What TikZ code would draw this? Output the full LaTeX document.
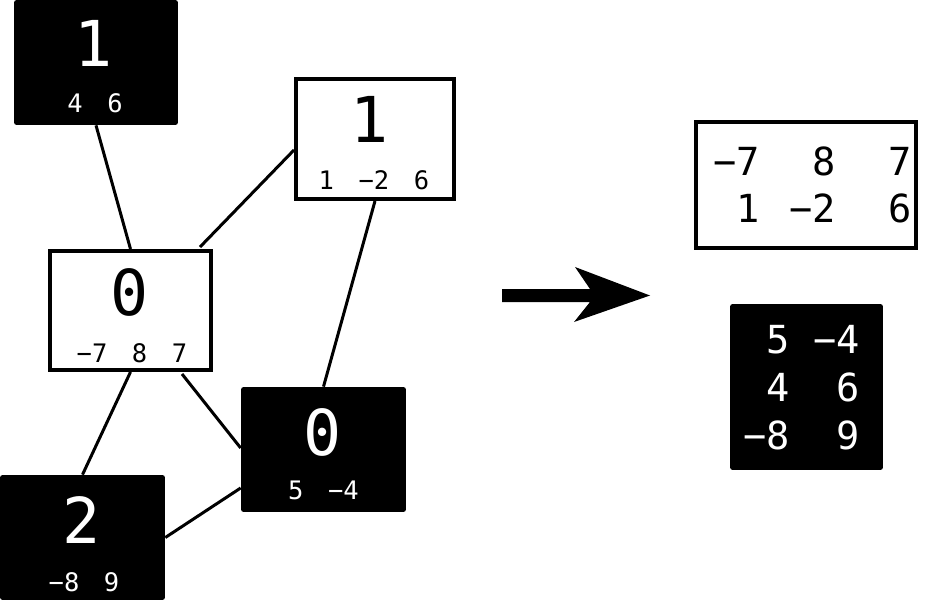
\documentclass[tikz,border=0pt]{standalone}
\usepackage{fontspec}
\setmonofont{DejaVu Sans Mono}
\usetikzlibrary{calc}

\newcommand\gp{\hspace{14pt}}

\tikzset{
  darkbox/.style={fill=black, rounded corners=1.5pt, inner sep=0pt},
  lightbox/.style={draw=black, line width=0.08cm, fill=white, inner sep=0pt},
  link/.style={line width=0.06cm},
  bignum/.style={anchor=base, inner sep=0pt, font=\ttfamily\fontsize{36}{40}\selectfont},
  smallnum/.style={anchor=base, inner sep=0pt, font=\ttfamily\fontsize{14.5}{17}\selectfont},
  matnum/.style={anchor=base east, inner sep=0pt, font=\ttfamily\fontsize{22}{26}\selectfont},
}

\begin{document}
\begin{tikzpicture}[x=0.02cm,y=-0.02cm]
\useasboundingbox (0,0) rectangle (933,601);
% graph boxes
\node[darkbox, minimum width=3.28cm, minimum height=2.5cm] (top) at (96,62.5) {};
\node[lightbox, minimum width=3.22cm, minimum height=2.38cm] (mid) at (130.5,310.5) {};
\node[lightbox, minimum width=3.16cm, minimum height=2.4cm] (upr) at (375,139) {};
\node[darkbox, minimum width=3.3cm, minimum height=2.5cm] (lwr) at (323.5,449.5) {};
\node[darkbox, minimum width=3.3cm, minimum height=2.5cm] (bot) at (82.5,537.5) {};
% edges
\draw[link] (top.south) -- (mid.north);
\draw[link] ($(mid.north)+(69.5,-2)$) -- ($(upr.west)+(0,11)$);
\draw[link] (upr.south) -- (lwr.north);
\draw[link] (mid.south) -- (bot.north);
\draw[link] ($(mid.south)+(51.5,2)$) -- ($(lwr.west)+(0,-1.5)$);
\draw[link] (bot.east) -- ($(lwr.west)+(0,38.5)$);
% labels
\node[bignum, white] (top-id) at (94,67) {1};
\node[smallnum, white] (top-v) at (95,113) {4\gp6};
\node[bignum] (mid-id) at (130,316) {0};
\node[smallnum] (mid-v) at (132,362) {−7\gp8\gp7};
\node[bignum] (upr-id) at (370,143) {1};
\node[smallnum] (upr-v) at (374,190) {1\gp−2\gp6};
\node[bignum, white] (lwr-id) at (323,455) {0};
\node[smallnum, white] (lwr-v) at (323.5,499) {5\gp−4};
\node[bignum, white] (bot-id) at (82,543) {2};
\node[smallnum, white] (bot-v) at (84,591) {−8\gp9};
% arrow
\fill (502,289) -- (590,289) -- (575,267) -- (650,295.5) -- (574,322) -- (590,302) -- (502,302) -- cycle;
% result
\node[lightbox, minimum width=4.4cm, minimum height=2.52cm] (res1) at (806,185) {};
\node[darkbox, minimum width=3.06cm, minimum height=3.32cm] (res2) at (806.5,387) {};
\foreach \t/\x/\y [count=\i] in {−7/760/176, 8/836/176, 7/912/176, 1/760/223, −2/836/223, 6/912/223}
  \node[matnum] (r1-\i) at (\x,\y) {\t};
\foreach \t/\x/\y [count=\i] in {5/790/353, −4/860/353, 4/790/401, 6/860/401, −8/790/449, 9/860/449}
  \node[matnum, white] (r2-\i) at (\x,\y) {\t};
\end{tikzpicture}
\end{document}
